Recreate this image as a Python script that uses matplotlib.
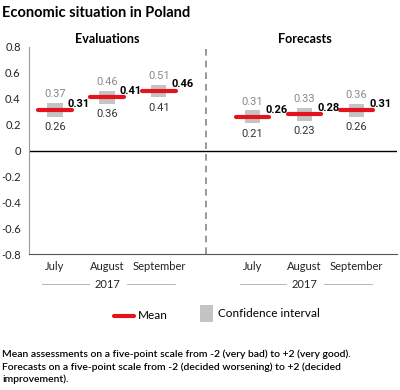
import matplotlib
matplotlib.use("Agg")
import matplotlib.pyplot as plt
from matplotlib.lines import Line2D
from matplotlib.patches import Rectangle
import matplotlib.transforms as mtransforms

plt.rcParams['font.family'] = ['Lato', 'DejaVu Sans']

# data
months = ['July', 'August', 'September']
year = '2017'
eval_mean = [0.31, 0.41, 0.46]
eval_low = [0.26, 0.36, 0.41]
eval_high = [0.37, 0.46, 0.51]
fc_mean = [0.26, 0.28, 0.31]
fc_low = [0.21, 0.23, 0.26]
fc_high = [0.31, 0.33, 0.36]
yticks = [0.8, 0.6, 0.4, 0.2, 0, -0.2, -0.4, -0.6, -0.8]

RED = '#e3141b'
BOX = '#c4c4c4'

fig = plt.figure(figsize=(4, 3.9), dpi=100)
ax = fig.add_axes([0.0725, 0.3487, 0.92, 0.5308])

eval_x = [1.0, 2.0, 3.0]
fc_x = [4.8, 5.8, 6.8]
div_x = 3.9

box_w = 0.29
line_w = 0.65

def draw_group(xs, mean, low, high):
    for x, m, lo, hi in zip(xs, mean, low, high):
        ax.add_patch(Rectangle((x - box_w / 2, lo), box_w, hi - lo,
                               facecolor=BOX, edgecolor='none', zorder=2))
        ax.plot([x - line_w / 2, x + line_w / 2], [m, m], color=RED,
                lw=3, solid_capstyle='round', zorder=3)
        ax.text(x, hi + 0.03, f'{hi:.2f}', ha='center', va='bottom',
                fontsize=8, color='#8a8a8a', family='Roboto')
        ax.text(x, lo - 0.04, f'{lo:.2f}', ha='center', va='top',
                fontsize=8, color='#333333', family='Roboto')
        ax.text(x + 0.25, m + 0.012, f'{m:.2f}', ha='left',
                va='bottom', fontsize=8, fontweight='bold', color='black',
                family='Roboto', zorder=4)

draw_group(eval_x, eval_mean, eval_low, eval_high)
draw_group(fc_x, fc_mean, fc_low, fc_high)

ax.axhline(0, color='black', lw=1, zorder=1)
ax.axvline(div_x, color='#888888', lw=1.2, ls=(0, (4, 3)), zorder=1)

ax.set_xlim(0.5, 7.58)
ax.set_ylim(-0.8, 0.8)
ax.set_yticks(yticks)
ax.set_yticklabels([f'{t:g}' for t in yticks], fontsize=8, color='#222222')
ax.tick_params(axis='y', length=0, pad=6)
ax.set_xticks([])
for s in ['top', 'right']:
    ax.spines[s].set_visible(False)
ax.spines['left'].set_color('#999999')
ax.spines['bottom'].set_color('#555555')

trans = mtransforms.blended_transform_factory(ax.transData, ax.transAxes)
for xs in (eval_x, fc_x):
    for x, mname in zip(xs, months):
        ax.text(x, -0.035, mname, transform=trans, ha='center', va='top',
                fontsize=8, color='#222222')
    mid = xs[1]
    ax.text(mid, -0.145, year, transform=trans, ha='center', va='center',
            fontsize=8, color='#222222')
    ax.plot([mid - 1.25, mid - 0.35], [-0.145, -0.145], transform=trans,
            color='#aaaaaa', lw=0.6, clip_on=False)
    ax.plot([mid + 0.38, mid + 1.3], [-0.145, -0.145], transform=trans,
            color='#aaaaaa', lw=0.6, clip_on=False)

ax.text(eval_x[1], 1.01, 'Evaluations', transform=trans, ha='center',
        va='bottom', fontsize=9, fontweight='bold')
ax.text(fc_x[1], 1.01, 'Forecasts', transform=trans, ha='center',
        va='bottom', fontsize=9, fontweight='bold')

fig.text(0.005, 0.967, 'Economic situation in Poland', ha='left',
         va='center', fontsize=10.5, fontweight='bold')

# legend
fig.add_artist(Line2D([0.285, 0.335], [0.19, 0.19], color=RED, lw=3,
                      solid_capstyle='round'))
fig.text(0.345, 0.19, 'Mean', ha='left', va='center', fontsize=8.5)
fig.add_artist(Rectangle((0.5, 0.174), 0.032, 0.044, facecolor=BOX,
                         edgecolor='none'))
fig.text(0.545, 0.197, 'Confidence interval', ha='left', va='center',
         fontsize=8.5)

note = ('Mean assessments on a five-point scale from -2 (very bad) to +2 (very good).\n'
        'Forecasts on a five-point scale from -2 (decided worsening) to +2 (decided\n'
        'improvement).')
fig.text(0.005, 0.059, note, ha='left', va='center', fontsize=7.5,
         fontweight='semibold', linespacing=1.4)

fig.savefig('out.png', dpi=100)
